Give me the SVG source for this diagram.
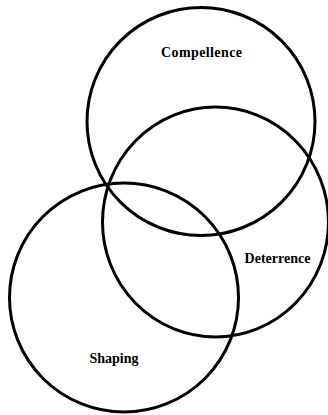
<svg xmlns="http://www.w3.org/2000/svg" width="328" height="415" viewBox="0 0 328 415">
<style>
.c{fill:none;stroke:#000;stroke-width:3}
.t{font-family:"Liberation Serif","Times New Roman",serif;font-weight:bold;font-size:14px;fill:#000;text-anchor:middle}
</style>
<rect width="328" height="415" fill="#fff"/>
<g id="compellence">
<circle class="c" cx="201" cy="121.5" r="114"/>
<text class="t" x="201.5" y="57" textLength="81" lengthAdjust="spacing">Compellence</text>
</g>
<g id="deterrence">
<ellipse class="c" cx="215.5" cy="222" rx="113" ry="115"/>
<text class="t" x="277.5" y="263">Deterrence</text>
</g>
<g id="shaping">
<circle class="c" cx="124" cy="297.5" r="114.5"/>
<text class="t" x="114" y="363">Shaping</text>
</g>
</svg>
